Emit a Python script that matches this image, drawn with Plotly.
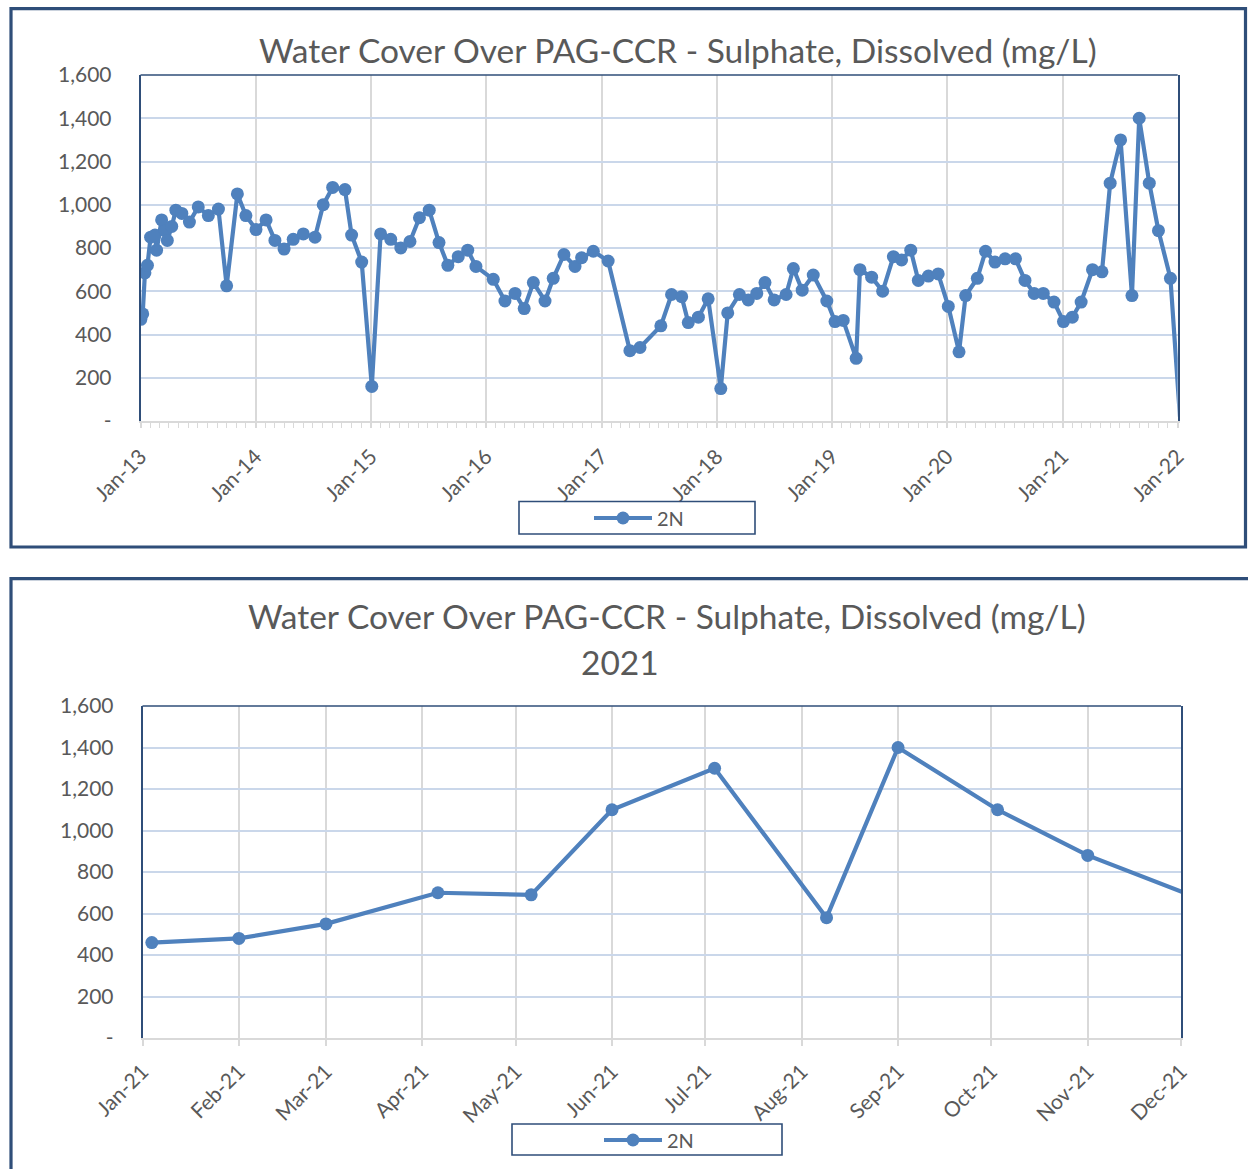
import plotly.graph_objects as go

# ---------------- data ----------------
dates = [
    "2013-01-02", "2013-01-08", "2013-01-15", "2013-01-23", "2013-02-02", "2013-02-16", "2013-02-21",
    "2013-03-09", "2013-03-20", "2013-03-27", "2013-04-10", "2013-04-23", "2013-05-12", "2013-06-05",
    "2013-07-03", "2013-08-04", "2013-09-05", "2013-10-01", "2013-11-04", "2013-12-01",
    "2014-01-02", "2014-02-03", "2014-03-03", "2014-04-01", "2014-04-30", "2014-06-01", "2014-07-08",
    "2014-08-03", "2014-09-02", "2014-10-11", "2014-11-01", "2014-12-03",
    "2015-01-04", "2015-02-01", "2015-03-05", "2015-04-06", "2015-05-05", "2015-06-04", "2015-07-05",
    "2015-08-05", "2015-09-02", "2015-10-05", "2015-11-04", "2015-11-30",
    "2016-01-24", "2016-03-01", "2016-04-02", "2016-05-01", "2016-05-30", "2016-07-06", "2016-08-01",
    "2016-09-04", "2016-10-09", "2016-10-30", "2016-12-06",
    "2017-01-22", "2017-04-01", "2017-05-03", "2017-07-08", "2017-08-11", "2017-09-12", "2017-10-03",
    "2017-11-04", "2017-12-05",
    "2018-01-14", "2018-02-05", "2018-03-14", "2018-04-11", "2018-05-08", "2018-06-03", "2018-07-02",
    "2018-08-09", "2018-09-01", "2018-09-29", "2018-11-03", "2018-12-16",
    "2019-01-11", "2019-02-06", "2019-03-19", "2019-03-31", "2019-05-07", "2019-06-11", "2019-07-15",
    "2019-08-10", "2019-09-08", "2019-10-02", "2019-11-03", "2019-12-04",
    "2020-01-05", "2020-02-08", "2020-02-29", "2020-04-06", "2020-05-02", "2020-06-01", "2020-07-03",
    "2020-08-05", "2020-09-04", "2020-10-03", "2020-11-01", "2020-12-05",
    "2021-01-04", "2021-02-01", "2021-03-01", "2021-04-06", "2021-05-06", "2021-06-01", "2021-07-04",
    "2021-08-09", "2021-09-01", "2021-10-03", "2021-11-01", "2021-12-09",
    "2022-01-08",
]
sulphate_2n = [
    470, 495, 685, 720, 850, 860, 790,
    930, 880, 835, 900, 975, 960, 920,
    990, 950, 980, 625, 1050, 950,
    885, 930, 835, 795, 840, 865, 850,
    1000, 1080, 1070, 860, 735,
    160, 865, 840, 800, 830, 940, 975,
    825, 720, 760, 790, 715,
    655, 555, 590, 520, 640, 555, 660,
    770, 715, 755, 785,
    740, 325, 340, 440, 585, 575, 455,
    480, 565,
    150, 500, 585, 560, 590, 640, 560,
    585, 705, 605, 675, 555,
    460, 465, 290, 700, 665, 600, 760,
    745, 790, 650, 670, 680,
    530, 320, 580, 660, 785, 735, 750,
    750, 650, 590, 590, 550,
    460, 480, 550, 700, 690, 1100, 1300,
    580, 1400, 1100, 880, 660,
    20,
]
series_name = "2N"
y_tickvals = [0, 200, 400, 600, 800, 1000, 1200, 1400, 1600]
y_ticktext = ["-", "200", "400", "600", "800", "1,000", "1,200", "1,400", "1,600"]
title_main = "Water Cover Over PAG-CCR - Sulphate, Dissolved (mg/L)"
title_year = "2021"

# ---------------- styling ----------------
FW, FH = 1248, 1169
FONT = "Lato, Carlito, 'Open Sans', sans-serif"
TXT = "#595959"
NAVY = "#2F4E79"
LINE = "#4F81BD"
CLEAR = "rgba(0,0,0,0)"
GRID_H = "#CAD7EA"
GRID_V = "#D9D9D9"
TOP_END = "2022-01-01"
BOT_END = "2021-12-01"


def px(x):
    return x / FW


def py(y):
    return 1 - y / FH


# markers outside the visible date window are not drawn (as in Excel)
top_colors = [LINE if d <= TOP_END else CLEAR for d in dates]

fig = go.Figure()
fig.add_trace(go.Scatter(
    x=dates, y=sulphate_2n, name=series_name, mode="lines+markers",
    line=dict(color=LINE, width=4.2),
    marker=dict(color=top_colors, size=13, opacity=1, line=dict(width=0)),
    xaxis="x", yaxis="y", legend="legend",
))
d21 = [d for d in dates if d >= "2021-01-01"]
v21 = [v for d, v in zip(dates, sulphate_2n) if d >= "2021-01-01"]
bot_colors = [LINE if d <= BOT_END else CLEAR for d in d21]
fig.add_trace(go.Scatter(
    x=d21, y=v21, name=series_name, mode="lines+markers",
    line=dict(color=LINE, width=4.2),
    marker=dict(color=bot_colors, size=13, opacity=1, line=dict(width=0)),
    xaxis="x2", yaxis="y2", legend="legend2",
))

tickfont = dict(family=FONT, size=21, color=TXT)

common_y = dict(
    range=[0, 1600], tickvals=y_tickvals, ticktext=y_ticktext, tickfont=tickfont,
    showgrid=True, gridcolor=GRID_H, gridwidth=1.6, zeroline=False,
    showline=True, mirror=True, linecolor=NAVY, linewidth=1.6,
    ticks="", ticklabelstandoff=23, automargin=False, fixedrange=True,
)

fig.update_layout(
    width=FW, height=FH, margin=dict(l=0, r=0, t=0, b=0),
    paper_bgcolor="white", plot_bgcolor="white",
    font=dict(family=FONT, color=TXT),
    xaxis=dict(
        domain=[px(140.5), px(1177.7)], anchor="y", type="date",
        range=["2013-01-01", TOP_END], dtick="M12", tick0="2013-01-01",
        tickformat="%b-%y", tickangle=-45, tickfont=tickfont,
        showgrid=True, gridcolor=GRID_V, gridwidth=1.8,
        showline=True, linecolor=GRID_V, linewidth=2,
        ticks="outside", ticklen=5, tickcolor=GRID_V, tickwidth=1.5,
        ticklabelstandoff=8,
        minor=dict(dtick="M1", ticks="outside", ticklen=5, tickcolor=GRID_V, tickwidth=1.2, showgrid=False),
        automargin=False, fixedrange=True,
    ),
    yaxis=dict(domain=[py(421), py(75)], anchor="x", **common_y),
    xaxis2=dict(
        domain=[px(142.5), px(1181)], anchor="y2", type="date",
        range=["2021-01-01", BOT_END], dtick="M1", tick0="2021-01-01",
        tickformat="%b-%y", tickangle=-45, tickfont=tickfont,
        showgrid=True, gridcolor=GRID_V, gridwidth=1.8,
        showline=True, linecolor=GRID_V, linewidth=2,
        ticks="outside", ticklen=6, tickcolor=GRID_V, tickwidth=1.5,
        ticklabelstandoff=5,
        automargin=False, fixedrange=True,
    ),
    yaxis2=dict(domain=[py(1038), py(706)], anchor="x2", **common_y),
    legend=dict(
        x=px(639), y=py(518), xanchor="center", yanchor="middle",
        font=dict(family=FONT, size=20, color=TXT), bgcolor="rgba(0,0,0,0)",
        borderwidth=0, itemwidth=58,
    ),
    legend2=dict(
        x=px(649), y=py(1140), xanchor="center", yanchor="middle",
        font=dict(family=FONT, size=20, color=TXT), bgcolor="rgba(0,0,0,0)",
        borderwidth=0, itemwidth=58,
    ),
    showlegend=True,
)

shapes = [
    # outer chart frames
    dict(type="rect", xref="paper", yref="paper", x0=px(11), x1=px(1245.5), y0=py(547), y1=py(8.7),
         line=dict(color=NAVY, width=3.2), layer="above"),
    dict(type="rect", xref="paper", yref="paper", x0=px(11), x1=px(1262), y0=py(1185), y1=py(578.7),
         line=dict(color=NAVY, width=3.2), layer="above"),
    # top border of plot areas
    dict(type="line", xref="x domain", yref="y domain", x0=0, x1=1, y0=1, y1=1,
         line=dict(color=NAVY, width=1.6)),
    dict(type="line", xref="x2 domain", yref="y2 domain", x0=0, x1=1, y0=1, y1=1,
         line=dict(color=NAVY, width=1.6)),
    # legend boxes
    dict(type="rect", xref="paper", yref="paper", x0=px(519), x1=px(755), y0=py(534), y1=py(501.5),
         line=dict(color=NAVY, width=1.6)),
    dict(type="rect", xref="paper", yref="paper", x0=px(512), x1=px(782), y0=py(1155), y1=py(1124),
         line=dict(color=NAVY, width=1.6)),
]
fig.update_layout(shapes=shapes)

TITLE_SIZE = 33.5
fig.add_annotation(text=title_main, xref="paper", yref="paper", x=px(678), y=py(50),
                   xanchor="center", yanchor="middle", showarrow=False,
                   font=dict(family=FONT, size=TITLE_SIZE, color=TXT))
fig.add_annotation(text=title_main, xref="paper", yref="paper", x=px(667), y=py(616),
                   xanchor="center", yanchor="middle", showarrow=False,
                   font=dict(family=FONT, size=TITLE_SIZE, color=TXT))
fig.add_annotation(text=title_year, xref="paper", yref="paper", x=px(620), y=py(662),
                   xanchor="center", yanchor="middle", showarrow=False,
                   font=dict(family=FONT, size=TITLE_SIZE, color=TXT))

fig.write_html(
    "out.html",
    config={"displayModeBar": False},
    post_script="document.body.style.margin='0';document.body.style.overflow='hidden';",
)
